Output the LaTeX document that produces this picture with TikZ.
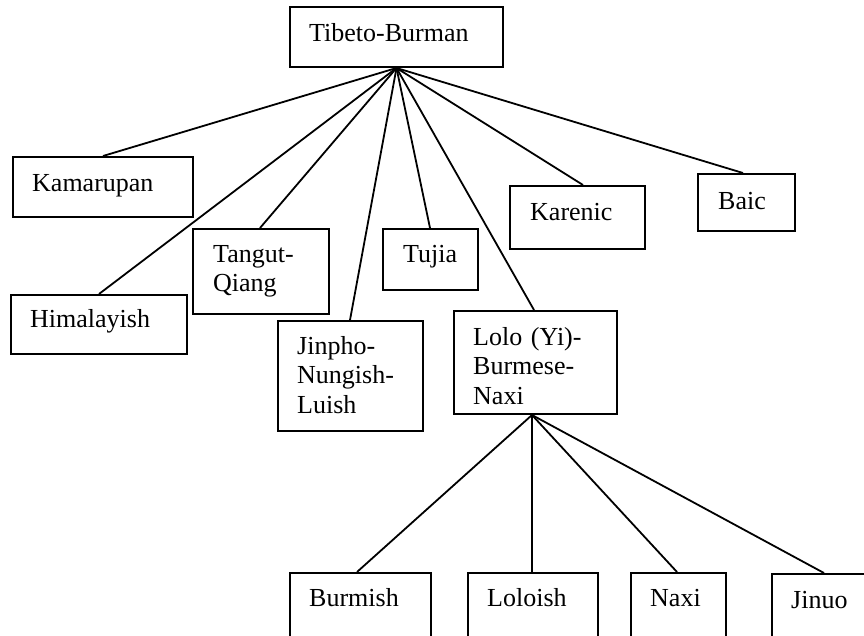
\documentclass[tikz,border=0pt]{standalone}
\usepackage{fontspec}
\setmainfont{Liberation Serif}
\begin{document}
\begin{tikzpicture}[
  x=1pt, y=-1pt,
  famnode/.style={draw, line width=2pt, rectangle, inner sep=0pt, anchor=north west},
  famtext/.style={anchor=base west, inner sep=0pt, text width=200pt, align=left,
                  font=\fontsize{26}{29.5}\selectfont},
  branch/.style={line width=1.8pt},
]
\useasboundingbox (0,0) rectangle (864,635);
\fill[white] (0,0) rectangle (864,635);
\clip (0,0) rectangle (864,635);

% family boxes
\node[famnode, minimum width=213, minimum height=60]  (tb)   at (289,6)   {};
\node[famnode, minimum width=180, minimum height=60]  (kam)  at (12,156)  {};
\node[famnode, minimum width=176, minimum height=59]  (him)  at (10,294)  {};
\node[famnode, minimum width=136, minimum height=85]  (tq)   at (192,228) {};
\node[famnode, minimum width=145, minimum height=110] (jnl)  at (277,320) {};
\node[famnode, minimum width=95,  minimum height=61]  (tuj)  at (382,228) {};
\node[famnode, minimum width=163, minimum height=103] (lolo) at (453,310) {};
\node[famnode, minimum width=135, minimum height=63]  (kar)  at (509,185) {};
\node[famnode, minimum width=97,  minimum height=57]  (baic) at (697,173) {};
\node[famnode, minimum width=141, minimum height=80]  (bur)  at (289,572) {};
\node[famnode, minimum width=130, minimum height=80]  (lol)  at (467,572) {};
\node[famnode, minimum width=95,  minimum height=80]  (naxi) at (630,572) {};
\node[famnode, minimum width=110, minimum height=80]  (jin)  at (771,573) {};

% labels, set 20pt in from the left edge, first baseline 34pt below the top
\node[famtext] (tb-t)   at ([shift={(20,35)}]tb.north west)   {Tibeto-Burman};
\node[famtext] (kam-t)  at ([shift={(20,35)}]kam.north west)  {Kamarupan};
\node[famtext] (him-t)  at ([shift={(20,33)}]him.north west)  {Himalayish};
\node[famtext] (tq-t)   at ([shift={(21,34)}]tq.north west)   {Tangut-\\Qiang};
\node[famtext] (jnl-t)  at ([shift={(20,34)}]jnl.north west)  {Jinpho-\\Nungish-\\Luish};
\node[famtext] (tuj-t)  at ([shift={(21,34)}]tuj.north west)  {Tujia};
\node[famtext] (lolo-t) at ([shift={(20,35)}]lolo.north west) {Lolo (Yi)-\\Burmese-\\Naxi};
\node[famtext] (kar-t)  at ([shift={(21,35)}]kar.north west)  {Karenic};
\node[famtext] (baic-t) at ([shift={(21,36)}]baic.north west) {Baic};
\node[famtext] (bur-t)  at ([shift={(20,34)}]bur.north west)  {Burmish};
\node[famtext] (lol-t)  at ([shift={(20,34)}]lol.north west)  {Loloish};
\node[famtext] (naxi-t) at ([shift={(20,34)}]naxi.north west) {Naxi};
\node[famtext] (jin-t)  at ([shift={(20,35)}]jin.north west)  {Jinuo};

% branches from Tibeto-Burman
\draw[branch] (tb.south) -- ([xshift=91pt]kam.north west);
\draw[branch] (tb.south) -- ([xshift=89pt]him.north west);
\draw[branch] (tb.south) -- ([xshift=68pt]tq.north west);
\draw[branch] (tb.south) -- ([xshift=73pt]jnl.north west);
\draw[branch] (tb.south) -- ([xshift=48pt]tuj.north west);
\draw[branch] (tb.south) -- ([xshift=81pt]lolo.north west);
\draw[branch] (tb.south) -- ([xshift=74pt]kar.north west);
\draw[branch] (tb.south) -- ([xshift=46pt]baic.north west);

% branches from Lolo-Burmese-Naxi
\coordinate (lolohub) at ([xshift=79pt]lolo.south west);
\draw[branch] (lolohub) -- ([xshift=68pt]bur.north west);
\draw[branch] (lolohub) -- ([xshift=65pt]lol.north west);
\draw[branch] (lolohub) -- ([xshift=47pt]naxi.north west);
\draw[branch] (lolohub) -- ([xshift=53pt]jin.north west);
\end{tikzpicture}
\end{document}
